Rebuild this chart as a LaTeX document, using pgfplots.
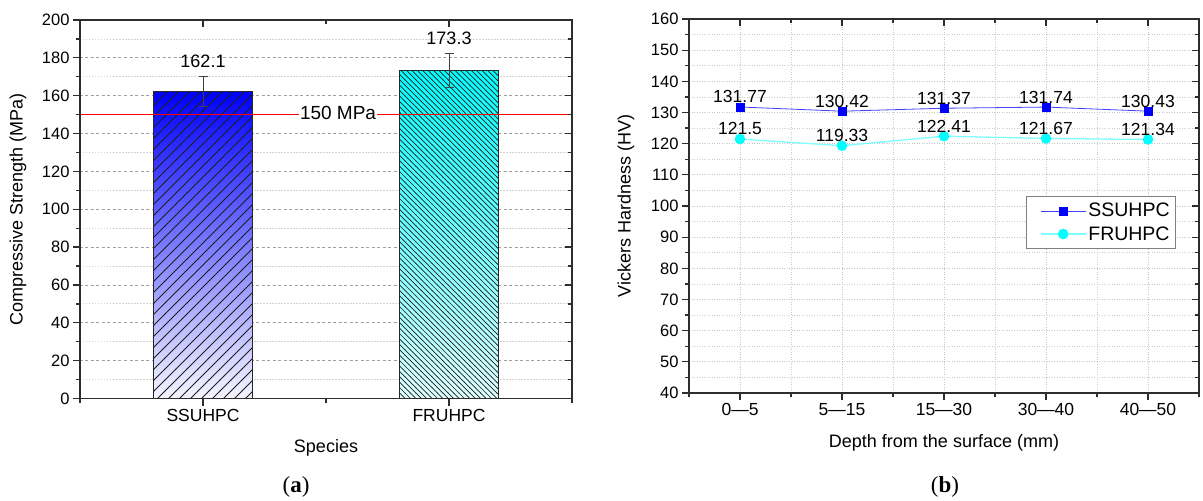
\documentclass[border=0pt]{standalone}
\usepackage{pgfplots}
\pgfplotsset{compat=1.18}
\usetikzlibrary{patterns}
\usepackage{fontspec}
\setmainfont{Liberation Sans}
\newfontfamily\capfont{Liberation Serif}
\definecolor{axisgray}{RGB}{45,45,45}
\definecolor{myblue}{RGB}{0,0,255}
\definecolor{mycyan}{RGB}{0,255,255}
\definecolor{hatch}{RGB}{30,30,30}
\pgfdeclarepatternformonly{hatchNE}{\pgfqpoint{-1pt}{-1pt}}{\pgfqpoint{12pt}{12pt}}{\pgfqpoint{11pt}{11pt}}{%
  \pgfsetlinewidth{0.8pt}%
  \pgfpathmoveto{\pgfqpoint{-0.2pt}{-0.2pt}}%
  \pgfpathlineto{\pgfqpoint{11.2pt}{11.2pt}}%
  \pgfusepath{stroke}}
\pgfdeclarepatternformonly{hatchNW}{\pgfqpoint{-1pt}{-1pt}}{\pgfqpoint{6.4pt}{6.4pt}}{\pgfqpoint{5.4pt}{5.4pt}}{%
  \pgfsetlinewidth{0.7pt}%
  \pgfpathmoveto{\pgfqpoint{-0.2pt}{5.6pt}}%
  \pgfpathlineto{\pgfqpoint{5.6pt}{-0.2pt}}%
  \pgfusepath{stroke}}
\begin{document}
\begin{tikzpicture}
\useasboundingbox (0pt,0pt) rectangle (1203pt,501pt);
\pgfplotsset{
  base/.style={
    scale only axis, anchor=south west,
    axis line style={axisgray, line width=1.6pt},
    tick style={axisgray, line width=1.3pt},
    major tick length=7pt, minor tick length=4pt,
  },
  myaxis/.style={
    base,
    tick align=outside,
    xtick pos=left, ytick pos=left,
    /pgf/number format/assume math mode=true,
    tick label style={font=\fontsize{16.5}{18}\selectfont, text=black},
    label style={font=\fontsize{18}{20}\selectfont},
  },
  overaxis/.style={
    base,
    tick align=inside, xtick pos=right, ytick pos=right,
    xticklabels={}, yticklabels={},
  },
}
% ---------------- panel (a) ----------------
\begin{axis}[myaxis, at={(80pt,102.5pt)}, width=492pt, height=378.5pt,
  xmin=-0.5, xmax=1.5, ymin=0, ymax=200,
  xtick={0,1}, xticklabels={SSUHPC,FRUHPC}, minor xtick={-0.5,0.5,1.5},
  ytick={0,20,...,200}, minor ytick={10,30,...,190},
  ymajorgrids, yminorgrids,
  major grid style={gray!75, line width=0.8pt, dash pattern=on 3pt off 2.5pt},
  minor grid style={gray!35, line width=0.8pt, dash pattern=on 1.5pt off 1.5pt},
  xlabel={Species}, ylabel={Compressive Strength (MPa)},
  xlabel style={at={(axis description cs:0.5,-0.131)}, anchor=center},
  ylabel style={at={(axis description cs:-0.126,0.5)}, anchor=center},
  xticklabel style={font=\fontsize{17.5}{19}\selectfont},
]
\addplot[ybar, bar width=0.4, bar shift=0pt, draw=none,
  top color=myblue, bottom color=myblue!4]
  coordinates {(0,162.1)};
\addplot[ybar, bar width=0.4, bar shift=0pt, draw=black!85, line width=0.8pt,
  pattern=hatchNE, pattern color=hatch]
  coordinates {(0,162.1)};
\addplot[ybar, bar width=0.4, bar shift=0pt, draw=none,
  top color=mycyan, bottom color=mycyan!12]
  coordinates {(1,173.3)};
\addplot[ybar, bar width=0.4, bar shift=0pt, draw=black!85, line width=0.8pt,
  pattern=hatchNW, pattern color=hatch]
  coordinates {(1,173.3)};
\addplot[draw=none, mark=none,
  error bars/.cd, y dir=both, y explicit,
  error bar style={draw=black!75, line width=0.9pt},
  error mark options={rotate=90, draw=black!75, mark size=4.5pt, line width=0.9pt}]
  coordinates {(0,162.1) +- (0,8) (1,173.3) +- (0,8.8)};
\addplot[red, line width=1pt] coordinates {(-0.5,150) (1.5,150)};
\node[fill=white, inner xsep=1pt, inner ysep=1pt, font=\fontsize{19}{21}\selectfont] at (axis cs:0.549,150.8) {150 MPa};
\node[anchor=base, yshift=9pt, font=\fontsize{18}{20}\selectfont] at (axis cs:0,170.1) {162.1};
\node[anchor=base, yshift=9pt, font=\fontsize{18}{20}\selectfont] at (axis cs:1,182.1) {173.3};
\end{axis}
\begin{axis}[overaxis, at={(80pt,102.5pt)}, width=492pt, height=378.5pt,
  xmin=-0.5, xmax=1.5, ymin=0, ymax=200,
  xtick={0,1}, minor xtick={-0.5,0.5,1.5},
  ytick={0,20,...,200}, minor ytick={10,30,...,190}]
\end{axis}
% ---------------- panel (b) ----------------
\begin{axis}[myaxis, at={(689pt,108pt)}, width=510pt, height=374pt,
  xmin=-0.5, xmax=4.5, ymin=40, ymax=160,
  xtick={0,1,2,3,4}, xticklabels={0—5,5—15,15—30,30—40,40—50},
  minor xtick={-0.5,0.5,...,4.5},
  ytick={40,50,...,160}, minor ytick={45,55,...,155},
  grid=both,
  major grid style={gray!45, line width=0.7pt, dash pattern=on 1pt off 1.5pt},
  minor grid style={gray!40, line width=0.7pt, dash pattern=on 1pt off 1.5pt},
  xlabel={Depth from the surface (mm)}, ylabel={Vickers Hardness (HV)},
  xlabel style={at={(axis description cs:0.5,-0.134)}, anchor=center},
  ylabel style={at={(axis description cs:-0.1235,0.5)}, anchor=center},
  xticklabel style={font=\fontsize{17.5}{19}\selectfont},
  legend style={at={(0.955,0.527)}, anchor=north east, draw=gray, line width=0.9pt,
    font=\fontsize{19.5}{21}\selectfont, inner xsep=4pt, inner ysep=5pt, row sep=4pt},
  legend cell align=left,
  legend image code/.code={\path (-10pt,0pt); \draw[mark repeat=2,mark phase=2] plot coordinates {(0pt,0pt)(22.5pt,0pt)(45pt,0pt)};},
  nodes near coords, point meta=explicit symbolic,
  every node near coord/.append style={anchor=base, yshift=4pt, text=black, font=\fontsize{17.5}{19}\selectfont},
]
\addplot[myblue!75!white, line width=0.8pt, mark=square*, mark size=4pt, mark options={fill=myblue, draw=myblue}]
  coordinates {(0,131.77)[131.77] (1,130.42)[130.42] (2,131.37)[131.37] (3,131.74)[131.74] (4,130.43)[130.43]};
\addlegendentry{SSUHPC}
\addplot[mycyan!50!white, line width=1.3pt, mark=*, mark size=4.6pt, mark options={fill=mycyan, draw=mycyan}]
  coordinates {(0,121.5)[121.5] (1,119.33)[119.33] (2,122.41)[122.41] (3,121.67)[121.67] (4,121.34)[121.34]};
\addlegendentry{FRUHPC}
\end{axis}
\begin{axis}[overaxis, at={(689pt,108pt)}, width=510pt, height=374pt,
  xmin=-0.5, xmax=4.5, ymin=40, ymax=160,
  xtick={0,1,2,3,4}, minor xtick={-0.5,0.5,...,4.5},
  ytick={40,50,...,160}, minor ytick={45,55,...,155}]
\end{axis}
% captions
\node[font=\capfont\fontsize{23}{25}\selectfont] at (296pt,14pt) {(\textbf{a})};
\node[font=\capfont\fontsize{23}{25}\selectfont] at (945pt,14pt) {(\textbf{b})};
\end{tikzpicture}
\end{document}
